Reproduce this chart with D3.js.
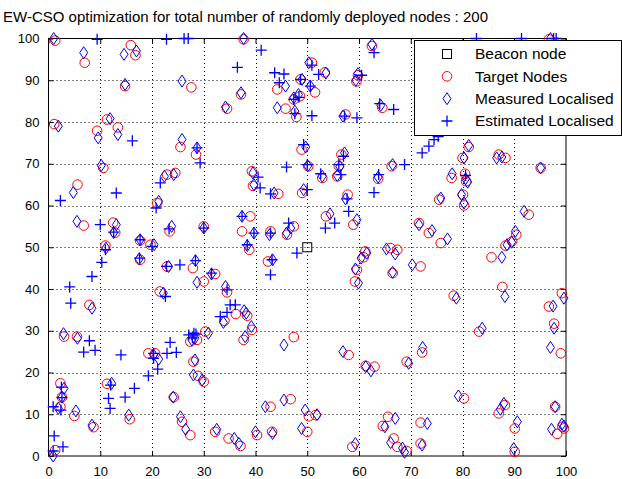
<!DOCTYPE html>
<html>
<head>
<meta charset="utf-8">
<script src="https://cdn.jsdelivr.net/npm/d3@7"></script>
<style>
  body { margin: 0; background: #fff; }
  svg { display: block; font-family: "Liberation Sans", Arial, sans-serif; }
</style>
</head>
<body>
<div id="chart"></div>
<script>
const titleText = "EW-CSO optimization for total number of randomly deployed nodes : 200";
const xTicks = [0, 10, 20, 30, 40, 50, 60, 70, 80, 90, 100];
const yTicks = [0, 10, 20, 30, 40, 50, 60, 70, 80, 90, 100];
const legendLabels = ["Beacon node", "Target Nodes", "Measured Localised", "Estimated Localised"];

const beaconNodes = [[50, 50]];

const targetNodes = [
  [1.3,99.5],[7,94.2],[15.9,98.4],[16.8,96],[14.8,88.6],[1.1,79.5],[11.3,80.6],[13.4,78.7],[9.4,77.9],[10.6,69],
  [37.7,99.8],[27.6,88.3],[37.2,86.6],[34.5,83.2],[44.2,87.8],[48.7,90.2],[47.4,85.4],[48.6,86.2],[45.8,83.2],[47.9,81.2],
  [25.5,74],[28.5,72.2],[48.9,73.4],[50.2,69.4],[39.3,68.2],
  [62.5,98.2],[50.9,94.2],[53.4,91.9],[59.8,91.2],[59.5,89.7],[51.5,87.1],[64.5,83.4],[57.4,81.8],[56.6,72.2],[56.1,69.5],
  [55.8,67],[66.3,69.4],[52.9,66.6],[63.7,66.4],
  [96.7,99.8],[81.2,74],[80,71.4],[87,72.2],[88.3,71.4],[95.1,69],[80.5,67.6],[77.9,66.6],
  [5.6,65],[6.8,55.2],[12.5,55.9],[12.9,53.5],[11,50.4],[7.9,36.2],[22.9,67.4],[24.5,67.8],[21,60.6],
  [23.4,53.8],[17.7,51.6],[19.7,50.6],[17.7,47],[22.9,45.4],[21.5,39.4],
  [39.5,64.7],[44.4,62.8],[49,63],[39,57.4],[30,55],[37.4,53.8],[42.9,53.8],[46.1,53],[47.4,55],[38.8,49.4],
  [42.4,46.6],[27.9,45],[32.2,43.6],[30,41.8],[34.5,39.2],[36.2,34],[38.4,33.6],[34,32.4],
  [57.8,62.6],[53.6,57.4],[58.9,55.4],[71.6,55.8],[73.5,53.4],[75.8,51],[61.2,49],[60.9,47.6],[66.1,49.8],[67.4,49.4],
  [71.9,45.4],[66.5,43.8],[59.6,44.6],[59.2,41.8],
  [80.7,65.8],[75.5,61.4],[80.1,62.6],[80.3,60],[92.8,57.8],[90.4,53],[89.6,51.4],[88.3,50.4],[85.6,47.6],[87.7,40.5],
  [78.3,38.4],[99.2,39],[96.7,35.8],
  [3,28.6],[5.5,28.6],[19.3,24.6],[20.6,24.6],[2.3,17.4],[2.6,14.1],[2.3,11.8],[5,9.6],[11.3,17.3],[8.7,6.9],
  [15.7,8.8],[24.2,14.1],[1.3,1.4],
  [37.7,27.8],[39.3,30.2],[27.4,27.4],[28.7,27.8],[30.3,29.8],[28,22.6],[28.9,19.2],[30,17.8],[47.4,28.5],[42.9,11.8],
  [46.8,13.6],[25.8,8.2],[27.4,5],[32.2,5.8],[34.8,4.2],[37.1,2.4],[40.3,5],[43.2,5.8],[50,5.8],[50.3,9.5],
  [58,24.2],[63,21.4],[61.3,21.6],[69.2,22.6],[72.2,24.8],[51.6,9.8],[58.7,2.2],[65.6,9.4],[64.6,7.2],[66.7,4.2],
  [67.4,2.2],[69.2,1.2],[71.9,8],[71.9,3],
  [83.2,29.8],[97.7,31.7],[99,24.6],[80.3,13.8],[87,10.2],[88.2,12.2],[90.1,6.6],[90.1,1],[97.9,11.8],[98.3,5.3],
  [99.3,7],[99.6,6.6]
];

const measuredNodes = [
  [1,100],[6.8,96.6],[14.6,96.2],[17,97],[14.8,89],[1.9,79],[11.9,80.8],[13.4,77],[9.6,76.2],[10.2,69.6],
  [37.7,100],[25.8,89.8],[37.2,87],[34.2,83.6],[45.8,88.6],[49,90.2],[47.4,85.8],[48.3,86.6],[44.2,83.4],[47.6,82.6],
  [25.8,75.8],[28.7,73.8],[49.7,74],[50.1,69.5],[39.5,67.8],
  [62.5,98.6],[50.3,94.2],[53.6,91.7],[59.8,91.6],[59.4,90],[50.6,88.6],[64.2,84],[56.9,81.4],[57.2,72.6],[56.3,69.3],
  [55.8,67.2],[66.5,69.8],[52.9,67],[63.7,66.8],
  [97,100],[81.2,74.4],[80.3,71.4],[86.6,71.4],[87.6,71.6],[95.1,69],[80.6,66.4],[78,67.6],
  [4.8,63.1],[5.5,56.2],[13.1,55.4],[12.6,53.5],[11.1,49.8],[8.4,35.4],[22.4,67],[24.2,67.4],[21.3,61],
  [23.8,55],[17.7,51.8],[20.4,50.6],[17.5,47.2],[23.2,45.4],[22.2,39],
  [39.7,65],[43.6,63],[49.3,63.8],[37.4,57.4],[30,54.6],[39.7,53.4],[42.7,53],[46,53.4],[46.8,54.6],[38.4,50.4],
  [43.3,47],[28.4,46.8],[31.5,43.6],[28.7,41.6],[34.2,40.6],[37.8,34.8],[38.2,34.2],[33.8,32],
  [57.4,61.6],[54.4,58],[59.6,56.6],[71.6,55.4],[74.1,54],[77.1,52],[61.5,48.6],[60.4,47.4],[65.3,49.6],[67,48.4],
  [70.3,45.8],[66.5,44],[59.3,44.8],[59.9,41.4],
  [81,65.6],[75.8,61.8],[79.8,62.6],[80.3,60.6],[91.9,58.6],[90.2,53.8],[89.5,51.2],[88.6,50.6],[87.6,47.6],[88.2,38.2],
  [78.8,37.8],[99.6,37.8],[97.5,35.9],
  [2.9,29.3],[5.6,28.2],[20.3,24.2],[21.3,23.2],[3,16.2],[2.6,14.1],[1.9,11.4],[5.3,10.8],[12.2,17.4],[8.4,7.4],
  [15.5,9.8],[24.1,14.1],[0.9,0],
  [38,28.6],[39.2,31],[27.7,27.8],[28.3,28.2],[30.9,29.4],[28.3,23],[28,19.4],[29.7,18.2],[45.5,26.6],[41.9,11.8],
  [45.5,13.4],[25.5,9.4],[26.5,6.4],[32.5,6.4],[35.9,4.2],[36.8,3],[40,5.8],[43.3,5.4],[48.9,6.6],[49.6,11],
  [56.9,25],[62.3,20.4],[61.3,21.4],[69.6,22.2],[72.3,26],[51.9,9.9],[59.3,3],[67,9],[65,7],[66.1,3.2],
  [68.4,1.9],[68.8,0.9],[73.2,7.8],[72.2,2.6],
  [83.8,30.6],[97.7,30.6],[97,26],[79.2,14.4],[87.3,11.2],[88,12.6],[90.6,8.2],[89.9,1.8],[97.9,11.8],[97.2,6.4],
  [99.2,7.6],[99.6,7.2]
];

const estimatedNodes = [
  [9.4,99.8],[22.8,99.8],[16.2,75.5],[26.2,100],[27,100],[41.1,97.2],[36.5,93.1],[43.7,91.8],[45.5,91.5],[44.6,89.4],
  [48.7,90.2],[47.4,85.4],[48.4,85.9],[47.6,82],[28.7,73.8],[29.3,70.2],[49.3,74.6],[50,69.8],[46,69.2],
  [62.9,96.6],[50.9,93.6],[52.2,91.4],[60.5,91.2],[50.6,88.6],[64,84.4],[66.7,83],[57.2,81.4],[59.6,81],[50.9,81.5],
  [57,71.8],[56.1,69.8],[56.5,67.4],[68.8,69.8],[52.6,67.6],[63.8,67.4],
  [72.2,72.6],[73.5,74.2],[74.5,75.8],[75.3,76.5],[82.7,100],[91.4,100],[97.6,100],[98.1,100],[80.6,67.2],
  [2.3,61.2],[13.1,63],[10,55.4],[12.6,53.6],[11,49.4],[10.3,46.4],[8.4,43],[4.1,40.5],[4.3,36.6],[21.6,65.4],
  [20.8,59.4],[23.3,54.4],[17.7,51.8],[20,50.2],[17.6,47.4],[22.8,45.4],[25.4,45.8],[22.6,38.2],
  [40.5,66.8],[40.9,64.2],[42.9,62.8],[37.4,57.4],[30,54.6],[39.7,53.4],[42.9,53.4],[46.4,55.8],[38.4,50.6],[48,48.6],
  [43.2,47],[42.9,43.4],[28.4,46.8],[31.5,43.8],[34.5,39.8],[35.1,36.2],[36.1,36.2],[33.2,33.4],[34.5,34.4],
  [57.7,61.6],[62.9,63.1],[50,63.8],[58,58.6],[53.5,54.6],[55.3,55.8],
  [7.9,27.6],[6.8,24.9],[9,25.3],[14,24.2],[20.3,24.6],[20.3,23.4],[23.5,27.2],[22.9,24.6],[24.7,24.8],[21.1,20.8],
  [19.3,19.2],[2.5,16.5],[2.6,14],[0.9,11.8],[2.4,11],[12,17],[11.6,13.8],[11.9,11.4],[14.8,14.1],[16.6,16.2],
  [1.1,4.8],[2.8,2.2],[0.9,1.2],
  [27.1,29],[28.1,29.4],[27.8,28.3],[28.5,29.2]
];

const width = 622, height = 479;
const margin = { left: 48.5, right: 56, top: 38.5, bottom: 23 };

const svg = d3.select("#chart").append("svg")
  .attr("width", width)
  .attr("height", height);

const x = d3.scaleLinear().domain([0, 100]).range([margin.left, width - margin.right]);
const y = d3.scaleLinear().domain([0, 100]).range([height - margin.bottom, margin.top]);

// dotted grid
const grid = svg.append("g").attr("stroke", "#000").attr("stroke-width", 1).attr("stroke-dasharray", "1,3");
grid.selectAll(".gx").data(xTicks.slice(1, -1)).enter().append("line")
  .attr("x1", d => Math.round(x(d)) + 0.5).attr("x2", d => Math.round(x(d)) + 0.5)
  .attr("y1", y(0)).attr("y2", y(100));
grid.selectAll(".gy").data(yTicks.slice(1, -1)).enter().append("line")
  .attr("y1", d => Math.round(y(d)) + 0.5).attr("y2", d => Math.round(y(d)) + 0.5)
  .attr("x1", x(0)).attr("x2", x(100));

// axes, ticks inside like matlab
const xAxis = d3.axisBottom(x).tickValues(xTicks).tickSizeInner(-5).tickSizeOuter(0).tickPadding(10.5);
const yAxis = d3.axisLeft(y).tickValues(yTicks).tickSizeInner(-5).tickSizeOuter(0).tickPadding(9);
const xTop = d3.axisTop(x).tickValues(xTicks).tickSizeInner(-5).tickSizeOuter(0).tickFormat("");
const yRight = d3.axisRight(y).tickValues(yTicks).tickSizeInner(-5).tickSizeOuter(0).tickFormat("");

function styleAxis(g) {
  g.select(".domain").remove();
  g.selectAll("line").attr("stroke", "#000");
  g.selectAll("text").attr("fill", "#000").style("font-size", "13px")
    .style("font-family", "'Liberation Sans', Arial, sans-serif");
}
svg.append("g").attr("transform", `translate(0,${y(0)})`).call(xAxis).call(styleAxis);
svg.append("g").attr("transform", `translate(${x(0)},0)`).call(yAxis).call(styleAxis);
svg.append("g").attr("transform", `translate(0,${y(100)})`).call(xTop).call(styleAxis);
svg.append("g").attr("transform", `translate(${x(100)},0)`).call(yRight).call(styleAxis);

svg.append("rect")
  .attr("x", x(0)).attr("y", y(100))
  .attr("width", x(100) - x(0)).attr("height", y(0) - y(100))
  .attr("fill", "none").attr("stroke", "#000").attr("stroke-width", 1);

const diamondPath = "M0,-6L4,0L0,6L-4,0Z";
const plusPath = "M-5.5,0H5.5M0,-5.5V5.5";

// beacon
svg.selectAll(".beacon").data(beaconNodes).enter().append("rect")
  .attr("x", d => x(d[0]) - 4.5).attr("y", d => y(d[1]) - 4.5)
  .attr("width", 9).attr("height", 9)
  .attr("fill", "none").attr("stroke", "#000").attr("stroke-width", 1);

// target nodes
svg.selectAll(".target").data(targetNodes).enter().append("circle")
  .attr("cx", d => x(d[0])).attr("cy", d => y(d[1])).attr("r", 4.8)
  .attr("fill", "none").attr("stroke", "#ff0000").attr("stroke-width", 1);

// measured
svg.selectAll(".measured").data(measuredNodes).enter().append("path")
  .attr("d", diamondPath)
  .attr("transform", d => `translate(${x(d[0])},${y(d[1])})`)
  .attr("fill", "none").attr("stroke", "#0000ff").attr("stroke-width", 1);

// estimated
svg.selectAll(".estimated").data(estimatedNodes).enter().append("path")
  .attr("d", plusPath)
  .attr("transform", d => `translate(${x(d[0])},${y(d[1])})`)
  .attr("fill", "none").attr("stroke", "#0000ff").attr("stroke-width", 1.3);

// title
svg.append("text")
  .attr("x", 3).attr("y", 22)
  .style("font-size", "15px")
  .attr("fill", "#000")
  .text(titleText);

// legend
const lg = svg.append("g").attr("transform", "translate(414,40)");
lg.append("rect").attr("x", 0.5).attr("y", 0.5).attr("width", 207).attr("height", 95)
  .attr("fill", "#fff").attr("stroke", "#000").attr("stroke-width", 1);
const rowY = d3.scaleLinear().domain([0, 3]).range([14, 81]);
legendLabels.forEach((label, i) => {
  const cy = rowY(i), cx = 33;
  if (i === 0) {
    lg.append("rect").attr("x", cx - 4.5).attr("y", cy - 4.5).attr("width", 9).attr("height", 9)
      .attr("fill", "none").attr("stroke", "#000");
  } else if (i === 1) {
    lg.append("circle").attr("cx", cx).attr("cy", cy).attr("r", 4.8)
      .attr("fill", "none").attr("stroke", "#ff0000");
  } else if (i === 2) {
    lg.append("path").attr("d", diamondPath).attr("transform", `translate(${cx},${cy})`)
      .attr("fill", "none").attr("stroke", "#0000ff");
  } else {
    lg.append("path").attr("d", plusPath).attr("transform", `translate(${cx},${cy})`)
      .attr("fill", "none").attr("stroke", "#0000ff").attr("stroke-width", 1.3);
  }
  lg.append("text").attr("x", 61).attr("y", cy).attr("dy", "0.35em")
    .style("font-size", "15.5px").attr("fill", "#000").text(label);
});
</script>
</body>
</html>
